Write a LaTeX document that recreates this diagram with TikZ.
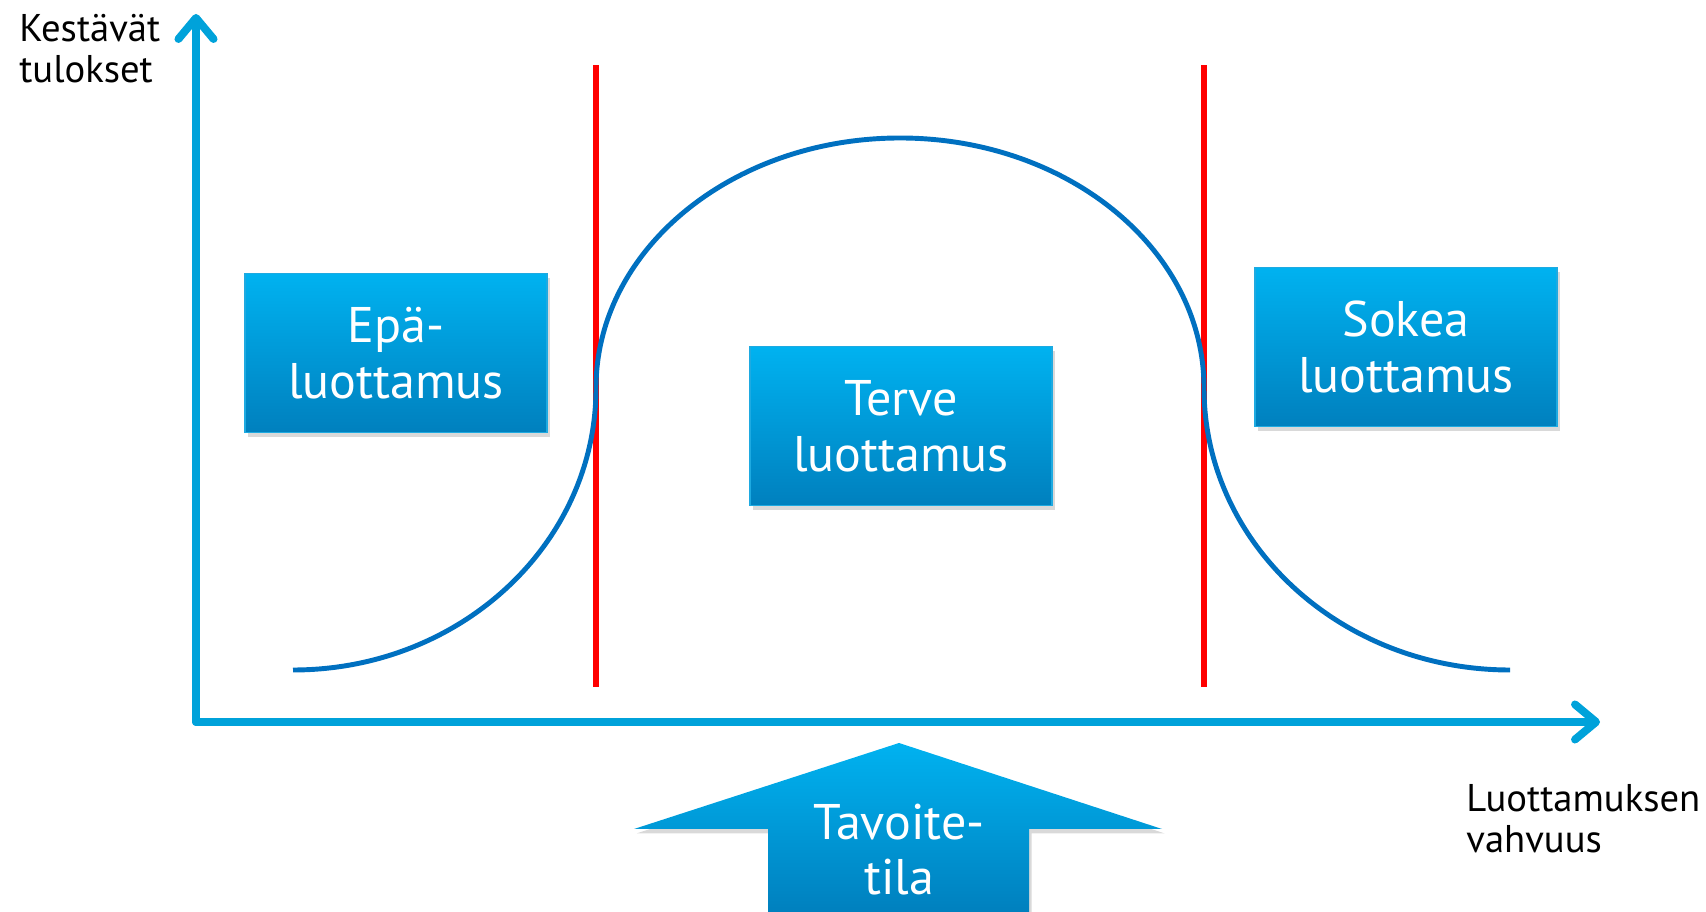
\documentclass[tikz,border=0pt]{standalone}
\usepackage{fontspec}
\setmainfont{PT Sans}
\usetikzlibrary{arrows.meta,shadows}

\definecolor{axisblue}{RGB}{0,162,218}
\definecolor{curveblue}{RGB}{0,112,192}
\definecolor{boxtop}{RGB}{0,178,240}
\definecolor{boxbottom}{RGB}{0,128,190}
\definecolor{boxedge}{RGB}{30,170,225}

\begin{document}
\begin{tikzpicture}
  [x=0.02cm,y=0.02cm,
   boxtext/.style={text=white, align=center, font=\fontsize{28.5}{31.8}\selectfont},
   trustbox/.style={boxtext, rectangle, draw=boxedge, line width=0.8pt,
     top color=boxtop, bottom color=boxbottom,
     minimum width=6.04cm, minimum height=3.18cm,
     drop shadow={shadow xshift=1.5pt, shadow yshift=-2.5pt, opacity=0.3}},
   axis/.style={axisblue, line width=4.5pt, line cap=round,
     -{Straight Barb[length=12pt, width=20pt, round]}},
   axistext/.style={align=left, anchor=base west, inner sep=0pt,
     font=\fontsize{22}{23.8}\selectfont},
   redline/.style={red, line width=3.4pt}]
  \useasboundingbox (0,0) rectangle (1706,912);

  \coordinate (o) at (196,190);
  \coordinate (ytip) at (196,898);
  \coordinate (xtip) at (1600,190);

  \foreach \x in {596,1204}
    \draw[redline] (\x,225) -- (\x,847);

  \draw[curveblue, line width=2.8pt] (293,242)
    arc[start angle=-90, end angle=0, x radius=303, y radius=282]
    arc[start angle=180, end angle=0, x radius=304, y radius=250]
    arc[start angle=180, end angle=270, x radius=306, y radius=282];

  \draw[axis] (o) -- (ytip);
  \draw[axis] (o) -- (xtip);

  \node[axistext] (ylab) at (19,829) {Kestävät\\tulokset};
  \node[axistext] (xlab) at (1466,59) {Luottamuksen\\vahvuus};

  \node[trustbox] (distrust) at (396,559) {Epä-\\luottamus};
  \node[trustbox] (healthy)  at (901,486) {Terve\\luottamus};
  \node[trustbox] (blind)    at (1406,565) {Sokea\\luottamus};

  \shade[top color=boxtop, bottom color=boxbottom,
    drop shadow={shadow xshift=1.5pt, shadow yshift=-2.5pt, opacity=0.3}]
    (768,0) -- (768,83) -- (634,83) -- (899,169) -- (1162,83)
    -- (1029,83) -- (1029,0) -- cycle;
  \node[boxtext, anchor=base] (goal) at (899,17) {Tavoite-\\tila};

\end{tikzpicture}
\end{document}
